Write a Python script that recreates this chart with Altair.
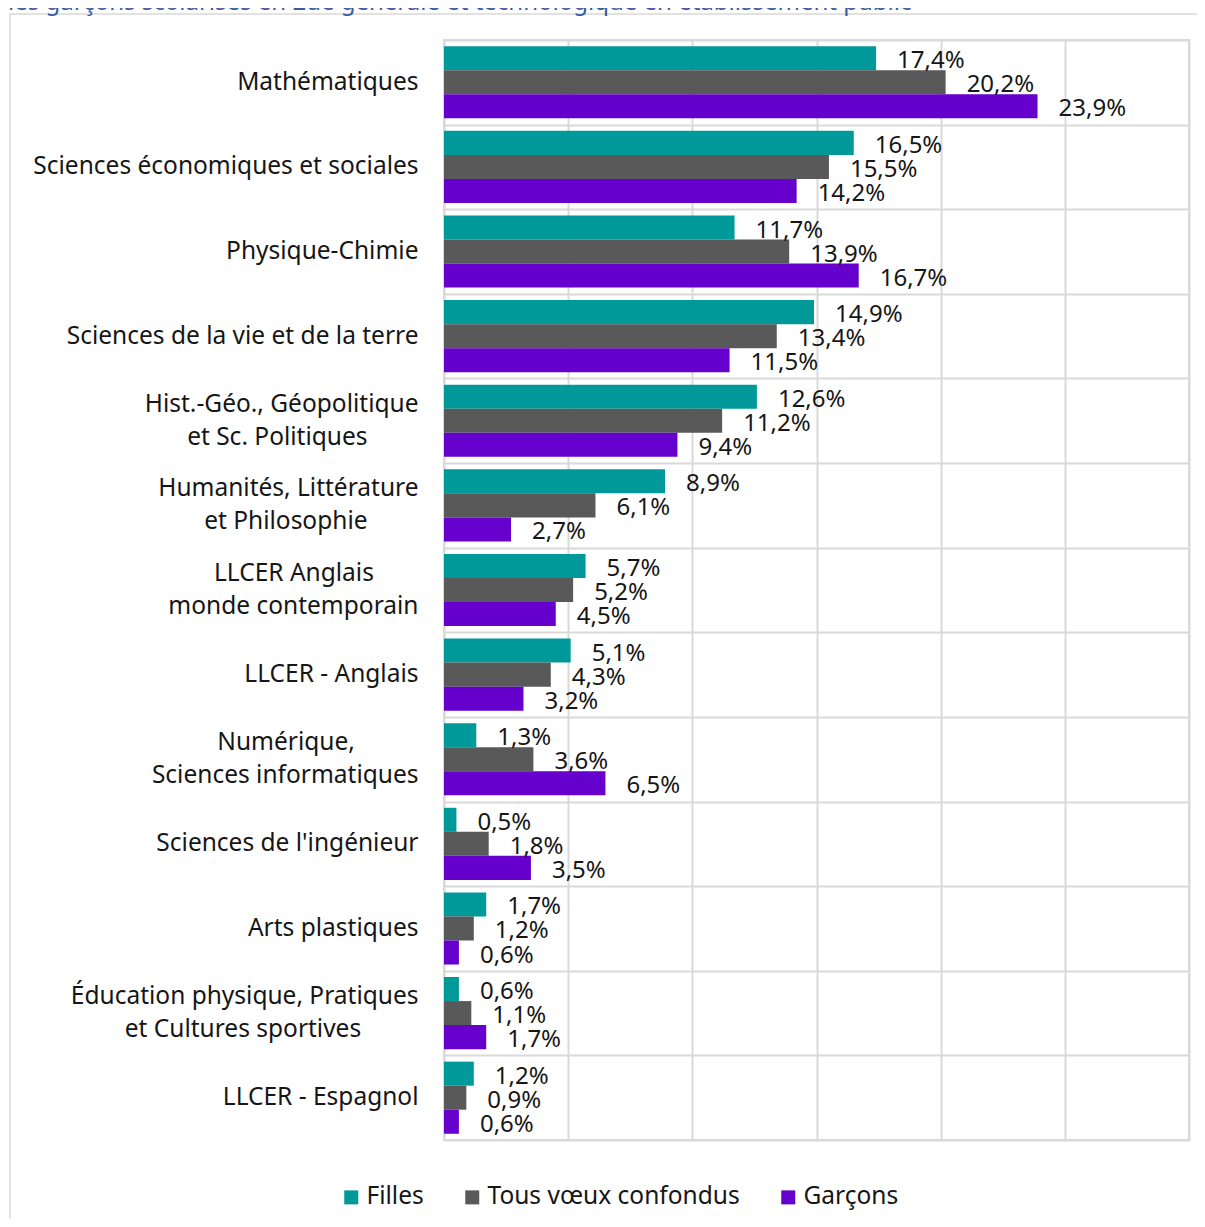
import altair as alt
import pandas as pd

# ---- data ----
categories = [
    "Mathématiques",
    "Sciences économiques et sociales",
    "Physique-Chimie",
    "Sciences de la vie et de la terre",
    "Hist.-Géo., Géopolitique|et Sc. Politiques",
    "Humanités, Littérature|et Philosophie",
    "LLCER Anglais|monde contemporain",
    "LLCER - Anglais",
    "Numérique,|Sciences informatiques",
    "Sciences de l'ingénieur",
    "Arts plastiques",
    "Éducation physique, Pratiques|et Cultures sportives",
    "LLCER - Espagnol",
]
filles = [17.4, 16.5, 11.7, 14.9, 12.6, 8.9, 5.7, 5.1, 1.3, 0.5, 1.7, 0.6, 1.2]
tous = [20.2, 15.5, 13.9, 13.4, 11.2, 6.1, 5.2, 4.3, 3.6, 1.8, 1.2, 1.1, 0.9]
garcons = [23.9, 14.2, 16.7, 11.5, 9.4, 2.7, 4.5, 3.2, 6.5, 3.5, 0.6, 1.7, 0.6]
series = ["Filles", "Tous vœux confondus", "Garçons"]
colors = ["#009999", "#595959", "#6600CC"]
title_text = "les garçons scolarisés en 2de générale et technologique en établissement public"

# invisible padding (no-break spaces closed by a word joiner) so that the
# shorter line of a two-line label looks centred under the longer one
line_pad = {
    "et Sc. Politiques": 8,
    "et Philosophie": 8,
    "LLCER Anglais": 7,
    "Numérique,": 10,
    "et Cultures sportives": 9,
}


def display(cat):
    out = []
    for l in cat.split("|"):
        n = line_pad.get(l, 0)
        out.append(l + ("\u00a0" * n + "\u2060" if n else ""))
    return "|".join(out)


disp_cats = [display(c) for c in categories]

rows = []
for i, c in enumerate(disp_cats):
    for s, vals in zip(series, [filles, tous, garcons]):
        v = vals[i]
        rows.append({"cat": c, "serie": s, "val": v,
                     "lab": f"{v:.1f}".replace(".", ",") + "%"})
df = pd.DataFrame(rows)

FONT = "Noto Sans"
INK = "#161616"

y_enc = alt.Y(
    "cat:N", sort=disp_cats, title=None,
    scale=alt.Scale(paddingInner=0, paddingOuter=0),
    axis=alt.Axis(
        labelExpr="split(datum.label, '|')",
        labelLineHeight=33, labelFontSize=24.5, labelColor=INK,
        labelFont=FONT, labelPadding=26, labelLimit=600,
        labelOffset=alt.condition("indexof(datum.label, '|') >= 0",
                                  alt.value(-16.5), alt.value(0)),
        ticks=False, domain=False, grid=True, tickBand="extent",
        gridColor="#d9d9d9", gridWidth=2,
    ),
)
yoff_enc = alt.YOffset("serie:N", sort=series,
                       scale=alt.Scale(paddingInner=0, paddingOuter=0.26))
x_enc = alt.X(
    "val:Q", title=None,
    scale=alt.Scale(domain=[0, 30], nice=False),
    axis=alt.Axis(values=[0, 5, 10, 15, 20, 25, 30], labels=False,
                  ticks=False, domain=False, grid=True,
                  gridColor="#d9d9d9", gridWidth=2),
)

bars = alt.Chart(df).mark_bar().encode(
    y=y_enc, yOffset=yoff_enc, x=x_enc,
    color=alt.Color(
        "serie:N", sort=series,
        scale=alt.Scale(domain=series, range=colors),
        legend=alt.Legend(
            title=None, orient="none", direction="horizontal",
            legendX=-105, legendY=1145,
            symbolType="square", symbolSize=196, symbolStrokeWidth=0,
            labelFontSize=24.5, labelFont=FONT, labelColor=INK,
            labelOffset=3, columnPadding=36, padding=0, labelLimit=600,
        ),
    ),
)

labels = alt.Chart(df).mark_text(
    align="left", baseline="middle", dx=21, dy=3,
    fontSize=24, font=FONT, color=INK,
).encode(y=y_enc, yOffset=yoff_enc, x=x_enc, text="lab:N")

deco = pd.DataFrame({"t": [title_text]})
frame = alt.Chart(deco).mark_rect(
    fill=None, stroke="#d9d9d9", strokeWidth=1.5
).encode(x=alt.value(-434), x2=alt.value(790),
         y=alt.value(-26), y2=alt.value(1300))

title_sliver = alt.Chart(deco).mark_text(
    align="left", baseline="alphabetic", fontSize=24, font=FONT,
    color="#3a5ba0",
).encode(x=alt.value(-436), y=alt.value(-30), text="t:N")

chart = alt.layer(frame, title_sliver, bars, labels).properties(
    width=745, height=1100,
    autosize=alt.AutoSizeParams(type="none"),
    padding={"left": 436, "top": 32, "right": 8, "bottom": 79},
).configure_view(stroke="#d9d9d9", strokeWidth=2)

chart.save("out.html", embed_options={"renderer": "svg", "actions": False})
